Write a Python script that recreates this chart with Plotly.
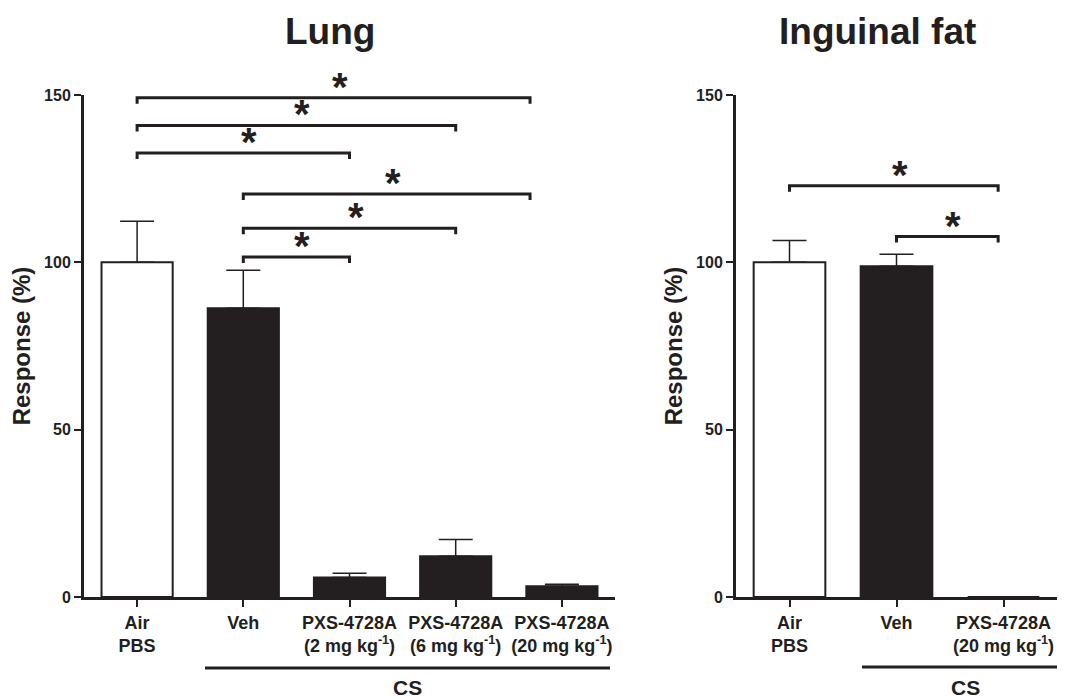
import plotly.graph_objects as go

# ---------------- data ----------------
lung_categories = ["Air<br>PBS", "Veh",
                   "PXS-4728A<br>(2 mg kg<sup>-1</sup>)",
                   "PXS-4728A<br>(6 mg kg<sup>-1</sup>)",
                   "PXS-4728A<br>(20 mg kg<sup>-1</sup>)"]
lung_values = [100.0, 86.3, 5.8, 12.2, 3.2]
lung_errors = [12.3, 11.3, 1.3, 5.0, 0.6]

fat_categories = ["Air<br>PBS", "Veh", "PXS-4728A<br>(20 mg kg<sup>-1</sup>)"]
fat_values = [100.0, 98.8, 0.0]
fat_errors = [6.5, 3.6, 0.0]

# significance brackets: (from category index, to category index, height %)
lung_brackets = [(0, 3.70, 149.2), (0, 3.0, 140.9), (0, 2.0, 132.7),
                 (1, 3.70, 120.4), (1, 3.0, 110.2), (1, 2.0, 101.6)]
fat_brackets = [(0, 1.95, 122.9), (1, 1.95, 107.7)]

y_ticks = [0, 50, 100, 150]

# ---------------- style / layout helpers ----------------
BLACK = "#231f20"
FONT = "Liberation Sans, Arial, Helvetica, sans-serif"
W, H = 1067, 697
OFF = 8  # page body margin compensation


def px(x):
    return (x - OFF) / W


def py(y):
    return (H - (y - OFF)) / H


bar_fill_lung = ["white", BLACK, BLACK, BLACK, BLACK]
bar_fill_fat = ["white", BLACK, BLACK]

fig = go.Figure()


def add_bars(cats, vals, errs, fills, xa, ya):
    fig.add_trace(go.Bar(
        x=cats, y=vals, width=0.67,
        marker=dict(color=fills, line=dict(color=BLACK, width=2)),
        error_y=dict(type="data", symmetric=False, array=errs,
                     arrayminus=[0] * len(errs), color=BLACK,
                     thickness=1.5, width=17),
        xaxis=xa, yaxis=ya, showlegend=False, hoverinfo="skip",
    ))


add_bars(lung_categories, lung_values, lung_errors, bar_fill_lung, "x", "y")
add_bars(fat_categories, fat_values, fat_errors, bar_fill_fat, "x2", "y2")

TICK = 1.8
shapes = []
annotations = []


def add_brackets(brackets, xref, yref):
    for x0, x1, yv in brackets:
        shapes.append(dict(
            type="path", xref=xref, yref=yref,
            path=f"M {x0},{yv - TICK} L {x0},{yv} L {x1},{yv} L {x1},{yv - TICK}",
            line=dict(color=BLACK, width=3),
        ))
        annotations.append(dict(
            x=(x0 + x1) / 2, y=yv, xref=xref, yref=yref, text="*",
            showarrow=False, xshift=6, yshift=-13, yanchor="bottom", xanchor="center",
            font=dict(family=FONT, size=40, color=BLACK, weight="bold"),
        ))


add_brackets(lung_brackets, "x", "y")
add_brackets(fat_brackets, "x2", "y2")

# CS group lines under the categories
shapes.append(dict(type="line", xref="paper", yref="paper",
                   x0=px(205), x1=px(610), y0=py(668), y1=py(668),
                   line=dict(color=BLACK, width=3)))
shapes.append(dict(type="line", xref="paper", yref="paper",
                   x0=px(862), x1=px(1057), y0=py(667), y1=py(667),
                   line=dict(color=BLACK, width=3)))

for xc, txt in [(407, "CS"), (965, "CS")]:
    annotations.append(dict(x=px(xc), y=py(687), xref="paper", yref="paper",
                            text=txt, showarrow=False, yanchor="middle", xanchor="center",
                            font=dict(family=FONT, size=21, color=BLACK, weight="bold")))

for xc, txt in [(330, "Lung"), (877, "Inguinal fat")]:
    annotations.append(dict(x=px(xc), y=py(32), xref="paper", yref="paper",
                            text=txt, showarrow=False, yanchor="middle", xanchor="center",
                            font=dict(family=FONT, size=37, color=BLACK, weight="bold")))

tickfont = dict(family=FONT, size=18, color=BLACK, weight="bold")
ytickfont = dict(family=FONT, size=16, color=BLACK, weight="bold")

common_x = dict(showline=True, linewidth=3, linecolor=BLACK, ticks="outside",
                ticklen=7, tickwidth=2, tickcolor=BLACK, showgrid=False,
                zeroline=False, tickfont=tickfont, fixedrange=True, automargin=False)
common_y = dict(showline=True, linewidth=3, linecolor=BLACK, ticks="outside",
                ticklen=7, tickwidth=2, tickcolor=BLACK, showgrid=False,
                zeroline=False, tickfont=ytickfont, range=[0, 150], automargin=False,
                tickvals=y_ticks, ticktext=[str(v) for v in y_ticks],
                title=dict(text="Response (%)", standoff=7,
                           font=dict(family=FONT, size=24, color=BLACK, weight="bold")))

y_dom = [py(597), py(95)]
fig.update_layout(
    width=W, height=H,
    margin=dict(l=0, r=0, t=0, b=0, autoexpand=False),
    paper_bgcolor="white", plot_bgcolor="white",
    xaxis=dict(domain=[px(84), px(615)], range=[-0.5, 4.5], **common_x),
    yaxis=dict(domain=y_dom, anchor="x", **common_y),
    xaxis2=dict(domain=[px(736), px(1057)], range=[-0.5, 2.5], anchor="y2", **common_x),
    yaxis2=dict(domain=y_dom, anchor="x2", **common_y),
    shapes=shapes, annotations=annotations, bargap=0.33,
)

fig.write_html("out.html")
